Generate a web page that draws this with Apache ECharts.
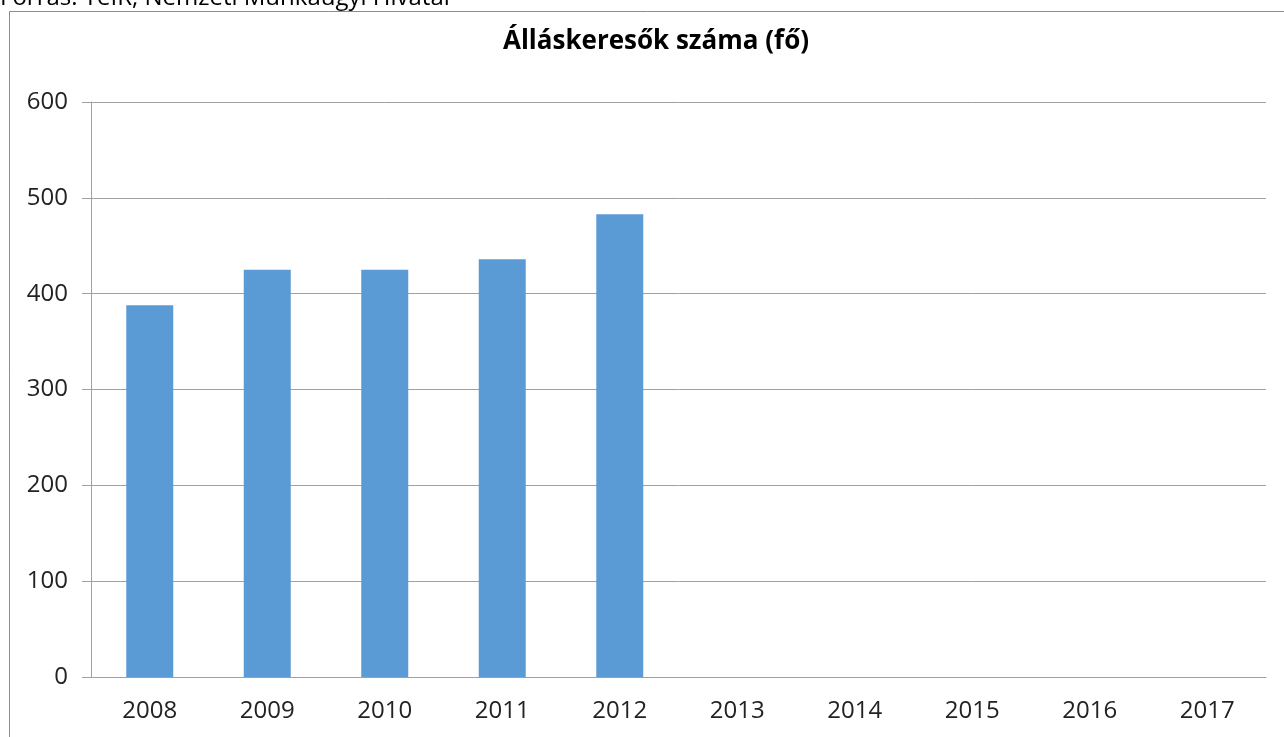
<!DOCTYPE html>
<html>
<head>
<meta charset="utf-8">
<script src="https://cdn.jsdelivr.net/npm/echarts@6/dist/echarts.min.js"></script>
<style>
  html, body { margin: 0; padding: 0; background: #fff; }
  #main { width: 1284px; height: 737px; }
</style>
</head>
<body>
<div id="main"></div>
<script>
// évek és álláskeresők száma (fő)
const years = ['2008', '2009', '2010', '2011', '2012', '2013', '2014', '2015', '2016', '2017'];
const jobSeekers = [388, 425, 425, 436, 483, null, null, null, null, null];
const yTicks = [0, 100, 200, 300, 400, 500, 600];

const chart = echarts.init(document.getElementById('main'));

let option = {
  animation: false,
  backgroundColor: '#fff',
  textStyle: { fontFamily: 'Open Sans' },
  title: {
    text: 'Álláskeresők száma (fő)',
    left: 651,
    top: 24,
    textAlign: 'center',
    textStyle: { fontFamily: 'Open Sans', fontWeight: 'bold', fontSize: 26, color: '#000' }
  },
  graphic: [
    {
      type: 'rect',
      shape: { x: 9.5, y: 11.5, width: 1290, height: 740 },
      style: { fill: 'none', stroke: '#8c8c8c', lineWidth: 1 }
    },
    {
      type: 'text',
      left: 0,
      top: -14,
      style: { text: 'Forrás: TeIR, Nemzeti Munkaügyi Hivatal', fontFamily: 'Open Sans', fontSize: 24, fill: '#000' }
    }
  ],
  grid: { left: 91, right: 18, top: 102, bottom: 60 },
  xAxis: {
    type: 'category',
    data: years,
    axisLine: { lineStyle: { color: '#a0a0a0' } },
    axisTick: { length: 7, lineStyle: { color: '#a0a0a0' } },
    axisLabel: { fontSize: 24, color: '#222', margin: 22 }
  },
  yAxis: {
    type: 'value',
    min: yTicks[0],
    max: yTicks[yTicks.length - 1],
    interval: 100,
    axisLine: { show: true, lineStyle: { color: '#a0a0a0' } },
    axisTick: { show: true, length: 9, lineStyle: { color: '#a0a0a0' } },
    axisLabel: { fontSize: 24, color: '#222', margin: 23 },
    splitLine: { lineStyle: { color: '#a0a0a0' } }
  },
  series: [{
    name: 'Álláskeresők száma',
    type: 'bar',
    data: jobSeekers,
    barWidth: '40%',
    itemStyle: { color: '#5b9bd5' }
  }]
};
chart.setOption(option);
</script>
</body>
</html>
